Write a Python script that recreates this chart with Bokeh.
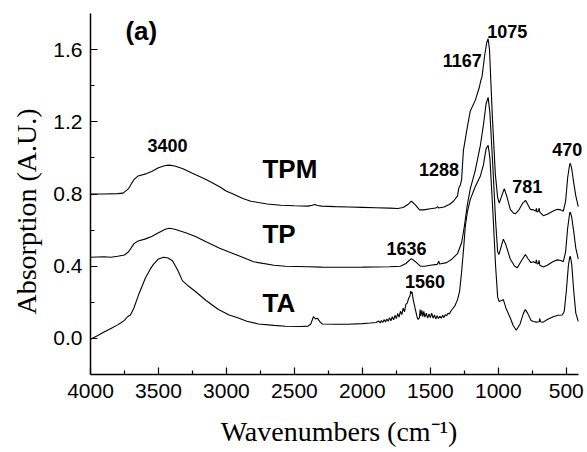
from bokeh.plotting import figure
from bokeh.models import Range1d, Label, FixedTicker, PrintfTickFormatter
from bokeh.embed import file_html
from bokeh.resources import INLINE

# FTIR absorption spectra (wavenumber in cm^-1, absorbance in A.U.)
tpm_wn = [4000, 3900, 3800, 3760, 3720, 3680, 3650, 3600, 3550, 3500, 3450, 3420, 3380, 3320,
          3250, 3150, 3050, 3000, 2950, 2880, 2820, 2700, 2600, 2500, 2400, 2370, 2350, 2330,
          2300, 2200, 2100, 2000, 1900, 1800, 1740, 1700, 1660, 1640, 1610, 1580, 1550, 1500,
          1460, 1445, 1440, 1400, 1360, 1330, 1300, 1290, 1280, 1270, 1257, 1228, 1206, 1169,
          1140, 1130, 1120, 1100, 1085, 1075, 1065, 1044, 1022, 1005, 993, 975, 956, 935, 912,
          890, 875, 850, 820, 800, 785, 765, 740, 725, 720, 715, 705, 700, 695, 669, 640, 600,
          566, 540, 522, 505, 490, 475, 470, 460, 445, 430, 412]
tpm_abs = [0.800, 0.800, 0.802, 0.805, 0.830, 0.880, 0.900, 0.910, 0.925, 0.945, 0.958, 0.960,
           0.955, 0.940, 0.915, 0.880, 0.840, 0.815, 0.800, 0.775, 0.760, 0.745, 0.738, 0.735,
           0.733, 0.738, 0.742, 0.736, 0.733, 0.730, 0.728, 0.726, 0.724, 0.722, 0.720, 0.725,
           0.745, 0.760, 0.740, 0.712, 0.712, 0.718, 0.722, 0.730, 0.722, 0.728, 0.742, 0.760,
           0.790, 0.835, 0.848, 0.880, 1.040, 1.170, 1.260, 1.320, 1.390, 1.425, 1.450, 1.570,
           1.640, 1.660, 1.600, 1.230, 0.910, 0.780, 0.750, 0.790, 0.830, 0.780, 0.715, 0.695,
           0.690, 0.710, 0.750, 0.765, 0.745, 0.715, 0.712, 0.705, 0.720, 0.700, 0.705, 0.722,
           0.700, 0.680, 0.688, 0.705, 0.715, 0.712, 0.705, 0.760, 0.890, 0.965, 0.970, 0.940,
           0.860, 0.790, 0.730]

tp_wn = [4000, 3900, 3850, 3800, 3750, 3720, 3680, 3650, 3600, 3550, 3500, 3450, 3420, 3380,
         3300, 3228, 3150, 3050, 2985, 2900, 2800, 2765, 2650, 2566, 2400, 2300, 2200, 2000,
         1800, 1720, 1680, 1640, 1610, 1574, 1540, 1500, 1450, 1438, 1432, 1380, 1340, 1300,
         1270, 1250, 1228, 1206, 1170, 1132, 1110, 1090, 1075, 1062, 1040, 1020, 1005, 995,
         975, 963, 945, 912, 880, 860, 830, 801, 780, 760, 740, 725, 720, 715, 705, 700, 695,
         669, 640, 600, 566, 540, 522, 505, 490, 475, 470, 460, 445, 430, 412]
tp_abs = [0.450, 0.452, 0.450, 0.455, 0.462, 0.480, 0.525, 0.540, 0.550, 0.565, 0.585, 0.605,
          0.610, 0.605, 0.585, 0.565, 0.535, 0.500, 0.480, 0.455, 0.425, 0.420, 0.405, 0.400,
          0.397, 0.395, 0.394, 0.395, 0.397, 0.400, 0.415, 0.442, 0.425, 0.400, 0.400, 0.405,
          0.410, 0.428, 0.412, 0.420, 0.440, 0.470, 0.530, 0.620, 0.740, 0.830, 0.930, 1.070,
          1.180, 1.300, 1.335, 1.250, 0.950, 0.650, 0.480, 0.465, 0.520, 0.550, 0.520, 0.440,
          0.400, 0.392, 0.430, 0.465, 0.440, 0.420, 0.425, 0.418, 0.435, 0.412, 0.415, 0.432,
          0.405, 0.395, 0.405, 0.425, 0.435, 0.432, 0.425, 0.480, 0.610, 0.695, 0.700, 0.670,
          0.590, 0.500, 0.440]

ta_wn = [4000, 3950, 3900, 3850, 3800, 3779, 3750, 3728, 3706, 3680, 3647, 3620, 3596, 3560,
         3537, 3500, 3463, 3430, 3397, 3360, 3324, 3280, 3228, 3150, 3059, 2980, 2912, 2850,
         2765, 2650, 2566, 2450, 2400, 2380, 2360, 2345, 2331, 2310, 2294, 2200, 2110, 2000,
         1941, 1900, 1880, 1870, 1860, 1850, 1840, 1830, 1820, 1810, 1800, 1790, 1780, 1770,
         1760, 1750, 1740, 1730, 1720, 1710, 1700, 1690, 1680, 1670, 1660, 1650, 1645, 1640,
         1635, 1625, 1610, 1596, 1590, 1580, 1575, 1570, 1562, 1555, 1548, 1540, 1530, 1520,
         1510, 1500, 1490, 1480, 1470, 1460, 1450, 1440, 1430, 1420, 1410, 1400, 1390, 1380,
         1370, 1360, 1350, 1340, 1320, 1300, 1285, 1270, 1255, 1243, 1228, 1206, 1170, 1132,
         1110, 1090, 1075, 1062, 1040, 1020, 1005, 995, 975, 963, 945, 912, 890, 868, 840, 815,
         801, 785, 760, 743, 720, 700, 695, 690, 669, 640, 596, 560, 529, 515, 500, 485, 475,
         470, 460, 445, 430, 412]
ta_abs = [-0.005, 0.015, 0.035, 0.055, 0.075, 0.085, 0.100, 0.120, 0.130, 0.170, 0.240, 0.290,
          0.335, 0.385, 0.410, 0.440, 0.450, 0.445, 0.430, 0.380, 0.320, 0.290, 0.260, 0.210,
          0.160, 0.130, 0.113, 0.095, 0.080, 0.072, 0.067, 0.066, 0.068, 0.080, 0.120, 0.108,
          0.112, 0.090, 0.080, 0.078, 0.078, 0.082, 0.085, 0.088, 0.096, 0.086, 0.099, 0.088,
          0.104, 0.091, 0.108, 0.095, 0.115, 0.098, 0.120, 0.103, 0.128, 0.110, 0.138, 0.118,
          0.150, 0.132, 0.168, 0.148, 0.188, 0.195, 0.222, 0.235, 0.262, 0.248, 0.258, 0.210,
          0.160, 0.113, 0.105, 0.115, 0.160, 0.125, 0.155, 0.120, 0.150, 0.118, 0.140, 0.112,
          0.135, 0.115, 0.140, 0.112, 0.130, 0.108, 0.125, 0.110, 0.122, 0.112, 0.128, 0.115,
          0.132, 0.125, 0.140, 0.135, 0.150, 0.160, 0.180, 0.215, 0.260, 0.370, 0.500, 0.620,
          0.700, 0.770, 0.840, 0.900, 0.960, 1.050, 1.070, 1.000, 0.700, 0.400, 0.230, 0.205,
          0.210, 0.215, 0.170, 0.113, 0.070, 0.045, 0.080, 0.140, 0.160, 0.140, 0.100, 0.094,
          0.090, 0.092, 0.110, 0.092, 0.090, 0.105, 0.120, 0.128, 0.130, 0.150, 0.260, 0.400,
          0.450, 0.455, 0.410, 0.260, 0.140, 0.094]

x_major = [4000, 3500, 3000, 2500, 2000, 1500, 1000, 500]
x_minor = [3750, 3250, 2750, 2250, 1750, 1250, 750]
y_major = [0.0, 0.4, 0.8, 1.2, 1.6]
y_minor = [0.2, 0.6, 1.0, 1.4]

SANS = "Liberation Sans"
SERIF = "Liberation Serif"

# Trailing no-break spaces nudge the rotated y label a little below the frame centre.
y_title = "Absorption (A.U.)" + "\u00a0" * 5

# The frame runs a little past the spectra's end so that the "470" note is not clipped;
# the x axis itself is bounded to the measured range.
p = figure(frame_width=497, frame_height=361,
           x_range=Range1d(4000, 344), y_range=Range1d(-0.2, 1.8),
           min_border_left=90, min_border_right=0, min_border_top=13, min_border_bottom=78,
           output_backend="svg", toolbar_location=None,
           x_axis_label="Wavenumbers (cm\u207b\u00b9)", y_axis_label=y_title)

p.grid.visible = False
p.outline_line_color = None
p.background_fill_color = "white"
p.border_fill_color = "white"

p.xaxis.ticker = FixedTicker(ticks=x_major, minor_ticks=x_minor)
p.yaxis.ticker = FixedTicker(ticks=y_major, minor_ticks=y_minor)
p.xaxis.formatter = PrintfTickFormatter(format="%d")
p.yaxis.formatter = PrintfTickFormatter(format="%.1f")
p.xaxis.bounds = (410, 4000)

for ax in (p.xaxis, p.yaxis):
    ax.axis_line_color = "black"
    ax.axis_line_width = 1.5
    ax.major_tick_line_color = "black"
    ax.minor_tick_line_color = "black"
    ax.major_tick_line_width = 1.2
    ax.minor_tick_line_width = 1.2
    ax.major_tick_in = 7
    ax.major_tick_out = 0
    ax.minor_tick_in = 4
    ax.minor_tick_out = 0
    ax.major_label_text_font = SANS
    ax.major_label_text_font_size = "21px"
    ax.major_label_text_color = "black"
    ax.axis_label_text_font = SERIF
    ax.axis_label_text_font_style = "normal"
    ax.axis_label_text_font_size = "28px"
    ax.axis_label_text_color = "black"

p.xaxis.major_label_standoff = 9
p.xaxis.axis_label_standoff = 15
p.yaxis.major_label_standoff = 8
p.yaxis.axis_label_standoff = 8

for wn, ab in ((tpm_wn, tpm_abs), (tp_wn, tp_abs), (ta_wn, ta_abs)):
    p.line(wn, ab, line_color="black", line_width=1.1)


def note(x, y, text, size="18px", align="center"):
    p.add_layout(Label(x=x, y=y, text=text, text_font=SANS, text_font_style="bold",
                       text_font_size=size, text_align=align, text_baseline="middle",
                       text_color="black"))


note(3743, 1.705, "(a)", size="26px", align="left")
note(3434, 1.067, "3400")
note(2735, 0.937, "TPM", size="26px", align="left")
note(2735, 0.578, "TP", size="26px", align="left")
note(2735, 0.194, "TA", size="26px", align="left")
note(1437, 0.933, "1288")
note(1265, 1.539, "1167")
note(934, 1.700, "1075")
note(493, 1.044, "470")
note(787, 0.844, "781")
note(1676, 0.500, "1636")
note(1540, 0.317, "1560")

open("out.html", "w").write(file_html(p, INLINE))
